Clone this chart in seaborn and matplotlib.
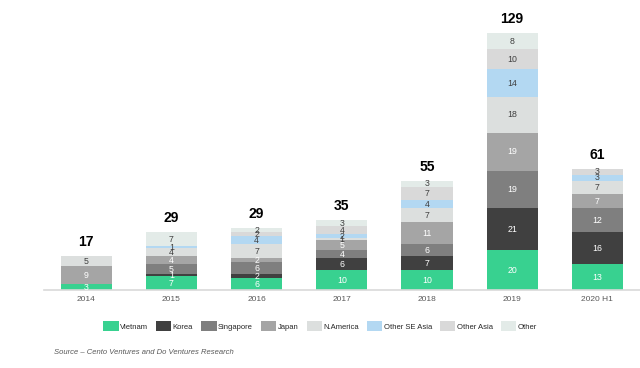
import pandas as pd
import seaborn as sns
import matplotlib.pyplot as plt
from matplotlib.patches import Patch

years = ['2014', '2015', '2016', '2017', '2018', '2019', '2020 H1']
regions = ['Vietnam', 'Korea', 'Singapore', 'Japan', 'N.America',
           'Other SE Asia', 'Other Asia', 'Other']

vietnam = [3, 7, 6, 10, 10, 20, 13]
korea = [0, 1, 2, 6, 7, 21, 16]
singapore = [0, 5, 6, 4, 6, 19, 12]
japan = [9, 4, 2, 5, 11, 19, 7]
n_america = [5, 4, 7, 1, 7, 18, 7]
other_se_asia = [0, 1, 4, 2, 4, 14, 3]
other_asia = [0, 0, 2, 4, 7, 10, 3]
other = [0, 7, 2, 3, 3, 8, 0]
totals = [17, 29, 29, 35, 55, 129, 61]

colors = ['#38d190', '#404040', '#7f7f7f', '#a5a5a5', '#dcdfde',
          '#b3d8f2', '#d9d9d9', '#e3ebe8']
label_colors = ['white', 'white', 'white', 'white',
                '#404040', '#404040', '#404040', '#404040']

series = [vietnam, korea, singapore, japan, n_america, other_se_asia, other_asia, other]

rows = []
for reg, vals in zip(regions, series):
    for yr, v in zip(years, vals):
        rows.append({'Year': yr, 'Region': reg, 'Count': v})
df = pd.DataFrame(rows)

sns.set_style('white')
plt.rcParams['font.family'] = ['Liberation Sans', 'DejaVu Sans']

fig = plt.figure(figsize=(6.4, 3.68), dpi=100)
ax = fig.add_axes([0.068, 1 - 290 / 368, 0.932, 280 / 368])

# seaborn stacks the last hue level at the bottom, so reverse the order
sns.histplot(data=df, x='Year', hue='Region', weights='Count', multiple='stack',
             hue_order=regions[::-1], palette=dict(zip(regions, colors)),
             discrete=True, shrink=0.6, alpha=1, linewidth=0, legend=False, ax=ax)

# segment labels + totals on top
for i in range(len(years)):
    base = 0
    for vals, lc in zip(series, label_colors):
        v = vals[i]
        if v > 0:
            ax.text(i, base + v / 2, str(v), ha='center', va='center',
                    fontsize=6.3, color=lc)
        base += v
    ax.text(i, base + 3.5, str(totals[i]), ha='center', va='bottom',
            fontsize=10, fontweight='bold', color='black')

ax.set_xlim(-0.5, 6.5)
ax.set_ylim(0, 140.7)
ax.set_xticks(range(len(years)))
ax.set_xticklabels(years)
ax.set_yticks([])
ax.set_xlabel('')
ax.set_ylabel('')
ax.tick_params(axis='x', length=0, pad=4, labelsize=6, labelcolor='#595959')
for s in ['top', 'right', 'left']:
    ax.spines[s].set_visible(False)
ax.spines['bottom'].set_color('#d9d9d9')
ax.spines['bottom'].set_linewidth(1.2)

handles = [Patch(facecolor=c, edgecolor='none', label=r) for r, c in zip(regions, colors)]
fig.legend(handles=handles, loc='center', bbox_to_anchor=(0.5, 1 - 326 / 368),
           ncol=8, frameon=False, fontsize=5.5, handlelength=2.0, handleheight=1.6,
           handletextpad=0.15, columnspacing=1.1)

fig.text(54 / 640, 1 - 352 / 368, 'Source \u2013 Cento Ventures and Do Ventures Research',
         fontsize=5.5, style='italic', color='#595959', va='center')

plt.savefig('out.png', dpi=100)
